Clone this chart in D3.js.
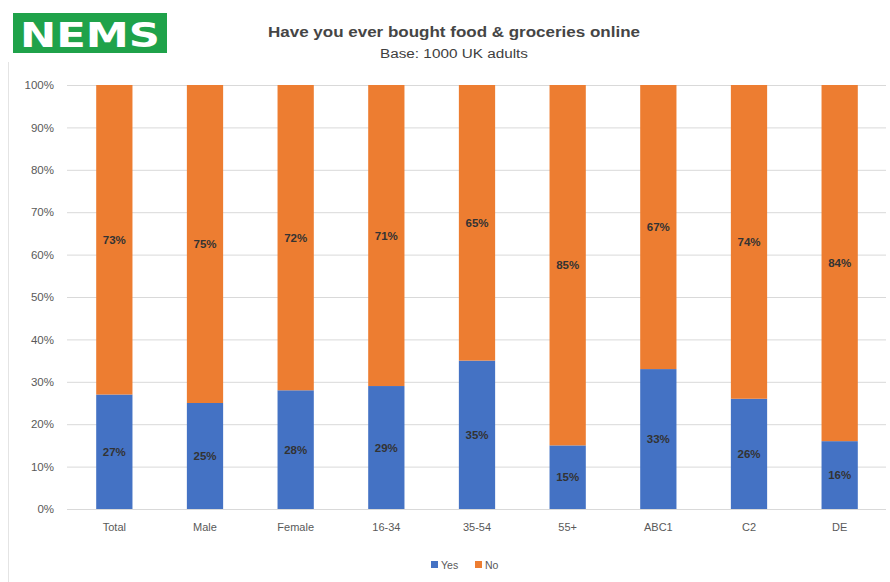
<!DOCTYPE html>
<html>
<head>
<meta charset="utf-8">
<script src="https://cdn.jsdelivr.net/npm/d3@7"></script>
<style>
  html, body { margin: 0; padding: 0; background: #fff; }
  svg { display: block; }
</style>
</head>
<body>
<svg id="chart" width="890" height="582"></svg>
<script>
// Survey result: "Have you ever bought food & groceries online"
const categories = ["Total", "Male", "Female", "16-34", "35-54", "55+", "ABC1", "C2", "DE"];
const yesValues = [27, 25, 28, 29, 35, 15, 33, 26, 16];
const noValues  = [73, 75, 72, 71, 65, 85, 67, 74, 84];
const seriesNames = ["Yes", "No"];
const seriesColors = ["#4472C4", "#ED7D31"];
const yTicks = [0, 10, 20, 30, 40, 50, 60, 70, 80, 90, 100];

const svg = d3.select("#chart");
const W = 890, H = 582;
const plot = { left: 67, right: 886, top: 85, bottom: 509 };

// faint frame line on the left
svg.append("line")
  .attr("x1", 8.5).attr("x2", 8.5).attr("y1", 62).attr("y2", H)
  .attr("stroke", "#e4e4e4").attr("stroke-width", 1);

// logo
svg.append("rect")
  .attr("x", 13).attr("y", 13).attr("width", 154).attr("height", 40)
  .attr("fill", "#1FA24A");
svg.append("text")
  .attr("x", 90).attr("y", 46.5)
  .attr("text-anchor", "middle")
  .attr("font-family", "'DejaVu Sans', sans-serif")
  .attr("font-weight", "bold")
  .attr("font-size", 34)
  .attr("fill", "#ffffff")
  .attr("textLength", 140)
  .attr("lengthAdjust", "spacingAndGlyphs")
  .text("NEMS");

// titles
svg.append("text")
  .attr("x", 454).attr("y", 37)
  .attr("text-anchor", "middle")
  .attr("font-family", "'Liberation Sans', Arial, sans-serif")
  .attr("font-weight", "bold")
  .attr("font-size", 14)
  .attr("fill", "#454545")
  .attr("textLength", 372)
  .attr("lengthAdjust", "spacingAndGlyphs")
  .text("Have you ever bought food & groceries online");
svg.append("text")
  .attr("x", 454).attr("y", 58)
  .attr("text-anchor", "middle")
  .attr("font-family", "'Liberation Sans', Arial, sans-serif")
  .attr("font-size", 12.5)
  .attr("fill", "#404040")
  .attr("textLength", 148)
  .attr("lengthAdjust", "spacingAndGlyphs")
  .text("Base: 1000  UK adults");

const x = d3.scaleBand().domain(categories).range([69, 885]).paddingInner(0.6).paddingOuter(0.3);
const y = d3.scaleLinear().domain([0, 100]).range([plot.bottom, plot.top]);

// gridlines + y axis labels
const yAxis = d3.axisLeft(y)
  .tickValues(yTicks)
  .tickSize(-(plot.right - plot.left))
  .tickFormat(d => d + "%");
const gy = svg.append("g").attr("transform", `translate(${plot.left},0)`).call(yAxis);
gy.select(".domain").remove();
gy.selectAll(".tick line").attr("stroke", "#d9d9d9").attr("stroke-width", 1);
gy.selectAll(".tick text")
  .attr("x", -13)
  .attr("font-family", "'Liberation Sans', Arial, sans-serif")
  .attr("font-size", 11.5)
  .attr("fill", "#595959");

// stacked data
const rows = categories.map((c, i) => ({ cat: c, Yes: yesValues[i], No: noValues[i] }));
const stacked = d3.stack().keys(seriesNames)(rows);

const layers = svg.append("g").selectAll("g")
  .data(stacked).join("g")
  .attr("fill", (d, i) => seriesColors[i]);

layers.selectAll("rect")
  .data(d => d).join("rect")
  .attr("x", d => x(d.data.cat))
  .attr("width", x.bandwidth())
  .attr("y", d => y(d[1]))
  .attr("height", d => y(d[0]) - y(d[1]));

// value labels centred in each segment
layers.each(function(layer) {
  d3.select(this).selectAll("text")
    .data(layer).join("text")
    .attr("x", d => x(d.data.cat) + x.bandwidth() / 2)
    .attr("y", d => y((d[0] + d[1]) / 2) + 4)
    .attr("text-anchor", "middle")
    .attr("font-family", "'Liberation Sans', Arial, sans-serif")
    .attr("font-weight", "bold")
    .attr("font-size", 11.5)
    .attr("fill", "#333333")
    .text(d => d.data[layer.key] + "%");
});

// category labels
const xAxis = d3.axisBottom(x).tickSize(0).tickPadding(0);
const gx = svg.append("g").attr("transform", `translate(0,${plot.bottom})`).call(xAxis);
gx.select(".domain").remove();
svg.append("line")
  .attr("x1", plot.left).attr("x2", plot.right)
  .attr("y1", plot.bottom + 0.5).attr("y2", plot.bottom + 0.5)
  .attr("stroke", "#d9d9d9");
gx.selectAll(".tick text")
  .attr("y", 14)
  .attr("dy", "0.71em")
  .attr("font-family", "'Liberation Sans', Arial, sans-serif")
  .attr("font-size", 11)
  .attr("fill", "#595959");

// legend
const legendItems = [
  { name: seriesNames[0], color: seriesColors[0], x: 431 },
  { name: seriesNames[1], color: seriesColors[1], x: 475 }
];
const lg = svg.append("g").selectAll("g").data(legendItems).join("g")
  .attr("transform", d => `translate(${d.x},561)`);
lg.append("rect").attr("width", 7).attr("height", 7).attr("fill", d => d.color);
lg.append("text")
  .attr("x", 10).attr("y", 7.5)
  .attr("font-family", "'Liberation Sans', Arial, sans-serif")
  .attr("font-size", 10.5)
  .attr("fill", "#595959")
  .text(d => d.name);
</script>
</body>
</html>
